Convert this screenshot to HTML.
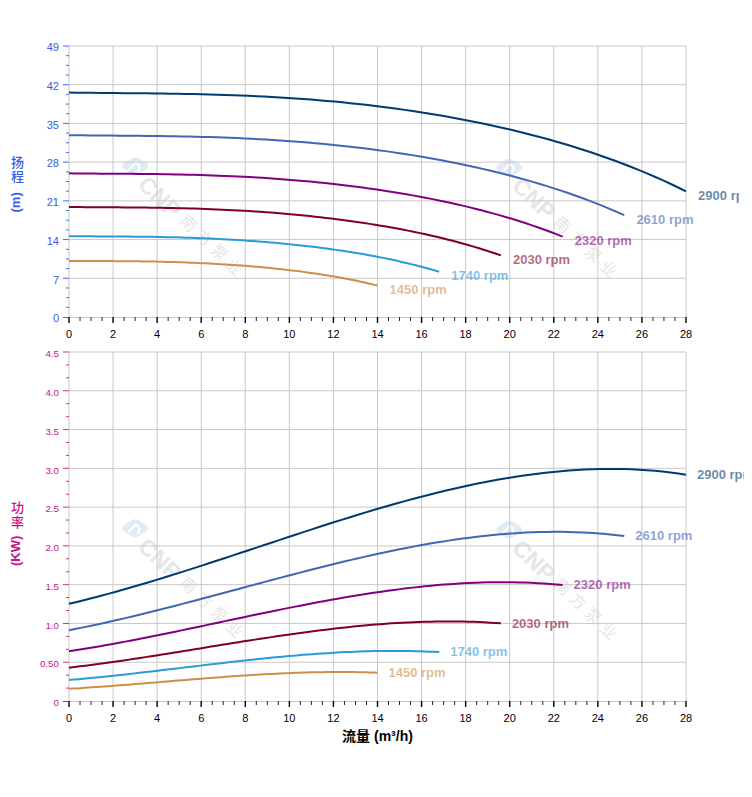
<!DOCTYPE html>
<html><head><meta charset="utf-8"><title>chart</title>
<style>html,body{margin:0;padding:0;background:#fff;}body{width:752px;height:797px;position:relative;overflow:hidden;}</style>
</head><body>
<svg width="752" height="797" viewBox="0 0 752 797" style="position:absolute;left:0;top:0" font-family='"Liberation Sans", Arial, Helvetica, sans-serif'>
<rect width="752" height="797" fill="#fff"/>
<g transform="translate(135.2,166.2)"><path d="M-13 0 Q-13 -2 -10.5 -3.6 L-2.5 -8.4 Q0 -9.6 2.5 -8.4 L10.5 -3.6 Q13 -2 13 0 Q13 2 10.5 3.6 L2.5 8.4 Q0 9.6 -2.5 8.4 L-10.5 3.6 Q-13 2 -13 0 Z" fill="#e0ebf7"/><path d="M-6 3 L1 -4 M1.5 -3 Q6 -1 3 5" fill="none" stroke="#fff" stroke-width="2.2" stroke-linecap="round"/></g>
<g transform="translate(147.5,185) rotate(44)"><text x="-7" y="8.2" font-size="23" font-weight="bold" fill="#e6e6e6">CNP</text><text x="48.3" y="4.5" font-size="16" letter-spacing="5.2" fill="#e6e6e6" font-family='"Liberation Sans", "Noto Sans CJK SC", sans-serif'>南方泵业</text></g>
<g transform="translate(509.2,167.7)"><path d="M-13 0 Q-13 -2 -10.5 -3.6 L-2.5 -8.4 Q0 -9.6 2.5 -8.4 L10.5 -3.6 Q13 -2 13 0 Q13 2 10.5 3.6 L2.5 8.4 Q0 9.6 -2.5 8.4 L-10.5 3.6 Q-13 2 -13 0 Z" fill="#e0ebf7"/><path d="M-6 3 L1 -4 M1.5 -3 Q6 -1 3 5" fill="none" stroke="#fff" stroke-width="2.2" stroke-linecap="round"/></g>
<g transform="translate(521.5,186.5) rotate(44)"><text x="-7" y="8.2" font-size="23" font-weight="bold" fill="#e6e6e6">CNP</text><text x="48.3" y="4.5" font-size="16" letter-spacing="5.2" fill="#e6e6e6" font-family='"Liberation Sans", "Noto Sans CJK SC", sans-serif'>南方泵业</text></g>
<g transform="translate(135.2,528.2)"><path d="M-13 0 Q-13 -2 -10.5 -3.6 L-2.5 -8.4 Q0 -9.6 2.5 -8.4 L10.5 -3.6 Q13 -2 13 0 Q13 2 10.5 3.6 L2.5 8.4 Q0 9.6 -2.5 8.4 L-10.5 3.6 Q-13 2 -13 0 Z" fill="#e0ebf7"/><path d="M-6 3 L1 -4 M1.5 -3 Q6 -1 3 5" fill="none" stroke="#fff" stroke-width="2.2" stroke-linecap="round"/></g>
<g transform="translate(147.5,547) rotate(44)"><text x="-7" y="8.2" font-size="23" font-weight="bold" fill="#e6e6e6">CNP</text><text x="48.3" y="4.5" font-size="16" letter-spacing="5.2" fill="#e6e6e6" font-family='"Liberation Sans", "Noto Sans CJK SC", sans-serif'>南方泵业</text></g>
<g transform="translate(509.2,529.7)"><path d="M-13 0 Q-13 -2 -10.5 -3.6 L-2.5 -8.4 Q0 -9.6 2.5 -8.4 L10.5 -3.6 Q13 -2 13 0 Q13 2 10.5 3.6 L2.5 8.4 Q0 9.6 -2.5 8.4 L-10.5 3.6 Q-13 2 -13 0 Z" fill="#e0ebf7"/><path d="M-6 3 L1 -4 M1.5 -3 Q6 -1 3 5" fill="none" stroke="#fff" stroke-width="2.2" stroke-linecap="round"/></g>
<g transform="translate(521.5,548.5) rotate(44)"><text x="-7" y="8.2" font-size="23" font-weight="bold" fill="#e6e6e6">CNP</text><text x="48.3" y="4.5" font-size="16" letter-spacing="5.2" fill="#e6e6e6" font-family='"Liberation Sans", "Noto Sans CJK SC", sans-serif'>南方泵业</text></g>
<line x1="69.0" y1="46" x2="686.0" y2="46" stroke="#c8c8c8" stroke-width="1"/>
<line x1="69.0" y1="84.71" x2="686.0" y2="84.71" stroke="#c8c8c8" stroke-width="1"/>
<line x1="69.0" y1="123.43" x2="686.0" y2="123.43" stroke="#c8c8c8" stroke-width="1"/>
<line x1="69.0" y1="162.14" x2="686.0" y2="162.14" stroke="#c8c8c8" stroke-width="1"/>
<line x1="69.0" y1="200.86" x2="686.0" y2="200.86" stroke="#c8c8c8" stroke-width="1"/>
<line x1="69.0" y1="239.57" x2="686.0" y2="239.57" stroke="#c8c8c8" stroke-width="1"/>
<line x1="69.0" y1="278.29" x2="686.0" y2="278.29" stroke="#c8c8c8" stroke-width="1"/>
<line x1="69.0" y1="317.5" x2="686.0" y2="317.5" stroke="#c8c8c8" stroke-width="1"/>
<line x1="69" y1="46" x2="69" y2="317" stroke="#c8c8c8" stroke-width="1"/>
<line x1="113.07" y1="46" x2="113.07" y2="317" stroke="#c8c8c8" stroke-width="1"/>
<line x1="157.14" y1="46" x2="157.14" y2="317" stroke="#c8c8c8" stroke-width="1"/>
<line x1="201.21" y1="46" x2="201.21" y2="317" stroke="#c8c8c8" stroke-width="1"/>
<line x1="245.29" y1="46" x2="245.29" y2="317" stroke="#c8c8c8" stroke-width="1"/>
<line x1="289.36" y1="46" x2="289.36" y2="317" stroke="#c8c8c8" stroke-width="1"/>
<line x1="333.43" y1="46" x2="333.43" y2="317" stroke="#c8c8c8" stroke-width="1"/>
<line x1="377.5" y1="46" x2="377.5" y2="317" stroke="#c8c8c8" stroke-width="1"/>
<line x1="421.57" y1="46" x2="421.57" y2="317" stroke="#c8c8c8" stroke-width="1"/>
<line x1="465.64" y1="46" x2="465.64" y2="317" stroke="#c8c8c8" stroke-width="1"/>
<line x1="509.71" y1="46" x2="509.71" y2="317" stroke="#c8c8c8" stroke-width="1"/>
<line x1="553.79" y1="46" x2="553.79" y2="317" stroke="#c8c8c8" stroke-width="1"/>
<line x1="597.86" y1="46" x2="597.86" y2="317" stroke="#c8c8c8" stroke-width="1"/>
<line x1="641.93" y1="46" x2="641.93" y2="317" stroke="#c8c8c8" stroke-width="1"/>
<line x1="686" y1="46" x2="686" y2="317" stroke="#c8c8c8" stroke-width="1"/>
<line x1="63" y1="46" x2="69" y2="46" stroke="#4a6ee6" stroke-width="1"/>
<line x1="66" y1="55.68" x2="69" y2="55.68" stroke="#4a6ee6" stroke-width="1"/>
<line x1="66" y1="65.36" x2="69" y2="65.36" stroke="#4a6ee6" stroke-width="1"/>
<line x1="66" y1="75.04" x2="69" y2="75.04" stroke="#4a6ee6" stroke-width="1"/>
<text x="59" y="51.3" fill="#3c5ae6" font-size="11" text-anchor="end">49</text>
<line x1="63" y1="84.71" x2="69" y2="84.71" stroke="#4a6ee6" stroke-width="1"/>
<line x1="66" y1="94.39" x2="69" y2="94.39" stroke="#4a6ee6" stroke-width="1"/>
<line x1="66" y1="104.07" x2="69" y2="104.07" stroke="#4a6ee6" stroke-width="1"/>
<line x1="66" y1="113.75" x2="69" y2="113.75" stroke="#4a6ee6" stroke-width="1"/>
<text x="59" y="90.01" fill="#3c5ae6" font-size="11" text-anchor="end">42</text>
<line x1="63" y1="123.43" x2="69" y2="123.43" stroke="#4a6ee6" stroke-width="1"/>
<line x1="66" y1="133.11" x2="69" y2="133.11" stroke="#4a6ee6" stroke-width="1"/>
<line x1="66" y1="142.79" x2="69" y2="142.79" stroke="#4a6ee6" stroke-width="1"/>
<line x1="66" y1="152.46" x2="69" y2="152.46" stroke="#4a6ee6" stroke-width="1"/>
<text x="59" y="128.73" fill="#3c5ae6" font-size="11" text-anchor="end">35</text>
<line x1="63" y1="162.14" x2="69" y2="162.14" stroke="#4a6ee6" stroke-width="1"/>
<line x1="66" y1="171.82" x2="69" y2="171.82" stroke="#4a6ee6" stroke-width="1"/>
<line x1="66" y1="181.5" x2="69" y2="181.5" stroke="#4a6ee6" stroke-width="1"/>
<line x1="66" y1="191.18" x2="69" y2="191.18" stroke="#4a6ee6" stroke-width="1"/>
<text x="59" y="167.44" fill="#3c5ae6" font-size="11" text-anchor="end">28</text>
<line x1="63" y1="200.86" x2="69" y2="200.86" stroke="#4a6ee6" stroke-width="1"/>
<line x1="66" y1="210.54" x2="69" y2="210.54" stroke="#4a6ee6" stroke-width="1"/>
<line x1="66" y1="220.21" x2="69" y2="220.21" stroke="#4a6ee6" stroke-width="1"/>
<line x1="66" y1="229.89" x2="69" y2="229.89" stroke="#4a6ee6" stroke-width="1"/>
<text x="59" y="206.16" fill="#3c5ae6" font-size="11" text-anchor="end">21</text>
<line x1="63" y1="239.57" x2="69" y2="239.57" stroke="#4a6ee6" stroke-width="1"/>
<line x1="66" y1="249.25" x2="69" y2="249.25" stroke="#4a6ee6" stroke-width="1"/>
<line x1="66" y1="258.93" x2="69" y2="258.93" stroke="#4a6ee6" stroke-width="1"/>
<line x1="66" y1="268.61" x2="69" y2="268.61" stroke="#4a6ee6" stroke-width="1"/>
<text x="59" y="244.87" fill="#3c5ae6" font-size="11" text-anchor="end">14</text>
<line x1="63" y1="278.29" x2="69" y2="278.29" stroke="#4a6ee6" stroke-width="1"/>
<line x1="66" y1="287.96" x2="69" y2="287.96" stroke="#4a6ee6" stroke-width="1"/>
<line x1="66" y1="297.64" x2="69" y2="297.64" stroke="#4a6ee6" stroke-width="1"/>
<line x1="66" y1="307.32" x2="69" y2="307.32" stroke="#4a6ee6" stroke-width="1"/>
<text x="59" y="283.59" fill="#3c5ae6" font-size="11" text-anchor="end">7</text>
<line x1="63" y1="317.5" x2="69" y2="317.5" stroke="#4a6ee6" stroke-width="1"/>
<text x="59" y="322.3" fill="#3c5ae6" font-size="11" text-anchor="end">0</text>
<line x1="69" y1="317" x2="69" y2="323" stroke="#000" stroke-width="1.4"/>
<text x="69" y="337.7" fill="#000" font-size="11" text-anchor="middle">0</text>
<line x1="80.02" y1="317" x2="80.02" y2="321" stroke="#222" stroke-width="1"/>
<line x1="91.04" y1="317" x2="91.04" y2="321" stroke="#222" stroke-width="1"/>
<line x1="102.05" y1="317" x2="102.05" y2="321" stroke="#222" stroke-width="1"/>
<line x1="113.07" y1="317" x2="113.07" y2="323" stroke="#000" stroke-width="1.4"/>
<text x="113.07" y="337.7" fill="#000" font-size="11" text-anchor="middle">2</text>
<line x1="124.09" y1="317" x2="124.09" y2="321" stroke="#222" stroke-width="1"/>
<line x1="135.11" y1="317" x2="135.11" y2="321" stroke="#222" stroke-width="1"/>
<line x1="146.12" y1="317" x2="146.12" y2="321" stroke="#222" stroke-width="1"/>
<line x1="157.14" y1="317" x2="157.14" y2="323" stroke="#000" stroke-width="1.4"/>
<text x="157.14" y="337.7" fill="#000" font-size="11" text-anchor="middle">4</text>
<line x1="168.16" y1="317" x2="168.16" y2="321" stroke="#222" stroke-width="1"/>
<line x1="179.18" y1="317" x2="179.18" y2="321" stroke="#222" stroke-width="1"/>
<line x1="190.2" y1="317" x2="190.2" y2="321" stroke="#222" stroke-width="1"/>
<line x1="201.21" y1="317" x2="201.21" y2="323" stroke="#000" stroke-width="1.4"/>
<text x="201.21" y="337.7" fill="#000" font-size="11" text-anchor="middle">6</text>
<line x1="212.23" y1="317" x2="212.23" y2="321" stroke="#222" stroke-width="1"/>
<line x1="223.25" y1="317" x2="223.25" y2="321" stroke="#222" stroke-width="1"/>
<line x1="234.27" y1="317" x2="234.27" y2="321" stroke="#222" stroke-width="1"/>
<line x1="245.29" y1="317" x2="245.29" y2="323" stroke="#000" stroke-width="1.4"/>
<text x="245.29" y="337.7" fill="#000" font-size="11" text-anchor="middle">8</text>
<line x1="256.3" y1="317" x2="256.3" y2="321" stroke="#222" stroke-width="1"/>
<line x1="267.32" y1="317" x2="267.32" y2="321" stroke="#222" stroke-width="1"/>
<line x1="278.34" y1="317" x2="278.34" y2="321" stroke="#222" stroke-width="1"/>
<line x1="289.36" y1="317" x2="289.36" y2="323" stroke="#000" stroke-width="1.4"/>
<text x="289.36" y="337.7" fill="#000" font-size="11" text-anchor="middle">10</text>
<line x1="300.38" y1="317" x2="300.38" y2="321" stroke="#222" stroke-width="1"/>
<line x1="311.39" y1="317" x2="311.39" y2="321" stroke="#222" stroke-width="1"/>
<line x1="322.41" y1="317" x2="322.41" y2="321" stroke="#222" stroke-width="1"/>
<line x1="333.43" y1="317" x2="333.43" y2="323" stroke="#000" stroke-width="1.4"/>
<text x="333.43" y="337.7" fill="#000" font-size="11" text-anchor="middle">12</text>
<line x1="344.45" y1="317" x2="344.45" y2="321" stroke="#222" stroke-width="1"/>
<line x1="355.46" y1="317" x2="355.46" y2="321" stroke="#222" stroke-width="1"/>
<line x1="366.48" y1="317" x2="366.48" y2="321" stroke="#222" stroke-width="1"/>
<line x1="377.5" y1="317" x2="377.5" y2="323" stroke="#000" stroke-width="1.4"/>
<text x="377.5" y="337.7" fill="#000" font-size="11" text-anchor="middle">14</text>
<line x1="388.52" y1="317" x2="388.52" y2="321" stroke="#222" stroke-width="1"/>
<line x1="399.54" y1="317" x2="399.54" y2="321" stroke="#222" stroke-width="1"/>
<line x1="410.55" y1="317" x2="410.55" y2="321" stroke="#222" stroke-width="1"/>
<line x1="421.57" y1="317" x2="421.57" y2="323" stroke="#000" stroke-width="1.4"/>
<text x="421.57" y="337.7" fill="#000" font-size="11" text-anchor="middle">16</text>
<line x1="432.59" y1="317" x2="432.59" y2="321" stroke="#222" stroke-width="1"/>
<line x1="443.61" y1="317" x2="443.61" y2="321" stroke="#222" stroke-width="1"/>
<line x1="454.62" y1="317" x2="454.62" y2="321" stroke="#222" stroke-width="1"/>
<line x1="465.64" y1="317" x2="465.64" y2="323" stroke="#000" stroke-width="1.4"/>
<text x="465.64" y="337.7" fill="#000" font-size="11" text-anchor="middle">18</text>
<line x1="476.66" y1="317" x2="476.66" y2="321" stroke="#222" stroke-width="1"/>
<line x1="487.68" y1="317" x2="487.68" y2="321" stroke="#222" stroke-width="1"/>
<line x1="498.7" y1="317" x2="498.7" y2="321" stroke="#222" stroke-width="1"/>
<line x1="509.71" y1="317" x2="509.71" y2="323" stroke="#000" stroke-width="1.4"/>
<text x="509.71" y="337.7" fill="#000" font-size="11" text-anchor="middle">20</text>
<line x1="520.73" y1="317" x2="520.73" y2="321" stroke="#222" stroke-width="1"/>
<line x1="531.75" y1="317" x2="531.75" y2="321" stroke="#222" stroke-width="1"/>
<line x1="542.77" y1="317" x2="542.77" y2="321" stroke="#222" stroke-width="1"/>
<line x1="553.79" y1="317" x2="553.79" y2="323" stroke="#000" stroke-width="1.4"/>
<text x="553.79" y="337.7" fill="#000" font-size="11" text-anchor="middle">22</text>
<line x1="564.8" y1="317" x2="564.8" y2="321" stroke="#222" stroke-width="1"/>
<line x1="575.82" y1="317" x2="575.82" y2="321" stroke="#222" stroke-width="1"/>
<line x1="586.84" y1="317" x2="586.84" y2="321" stroke="#222" stroke-width="1"/>
<line x1="597.86" y1="317" x2="597.86" y2="323" stroke="#000" stroke-width="1.4"/>
<text x="597.86" y="337.7" fill="#000" font-size="11" text-anchor="middle">24</text>
<line x1="608.88" y1="317" x2="608.88" y2="321" stroke="#222" stroke-width="1"/>
<line x1="619.89" y1="317" x2="619.89" y2="321" stroke="#222" stroke-width="1"/>
<line x1="630.91" y1="317" x2="630.91" y2="321" stroke="#222" stroke-width="1"/>
<line x1="641.93" y1="317" x2="641.93" y2="323" stroke="#000" stroke-width="1.4"/>
<text x="641.93" y="337.7" fill="#000" font-size="11" text-anchor="middle">26</text>
<line x1="652.95" y1="317" x2="652.95" y2="321" stroke="#222" stroke-width="1"/>
<line x1="663.96" y1="317" x2="663.96" y2="321" stroke="#222" stroke-width="1"/>
<line x1="674.98" y1="317" x2="674.98" y2="321" stroke="#222" stroke-width="1"/>
<line x1="686" y1="317" x2="686" y2="323" stroke="#000" stroke-width="1.4"/>
<text x="686" y="337.7" fill="#000" font-size="11" text-anchor="middle">28</text>
<svg x="0" y="0" width="739" height="797" overflow="hidden">
<path d="M69.00 92.53 L76.81 92.65 L84.62 92.76 L92.43 92.85 L100.24 92.93 L108.05 93.00 L115.86 93.07 L123.67 93.13 L131.48 93.20 L139.29 93.27 L147.10 93.34 L154.91 93.43 L162.72 93.52 L170.53 93.63 L178.34 93.75 L186.15 93.89 L193.96 94.04 L201.77 94.22 L209.58 94.42 L217.39 94.64 L225.20 94.89 L233.01 95.16 L240.82 95.46 L248.63 95.79 L256.44 96.15 L264.25 96.54 L272.06 96.96 L279.87 97.42 L287.68 97.91 L295.49 98.43 L303.30 98.99 L311.11 99.59 L318.92 100.22 L326.73 100.89 L334.54 101.61 L342.35 102.36 L350.16 103.15 L357.97 103.98 L365.78 104.86 L373.59 105.77 L381.41 106.73 L389.22 107.74 L397.03 108.79 L404.84 109.88 L412.65 111.03 L420.46 112.21 L428.27 113.45 L436.08 114.74 L443.89 116.08 L451.70 117.46 L459.51 118.90 L467.32 120.40 L475.13 121.95 L482.94 123.55 L490.75 125.21 L498.56 126.93 L506.37 128.71 L514.18 130.55 L521.99 132.46 L529.80 134.43 L537.61 136.47 L545.42 138.58 L553.23 140.75 L561.04 143.00 L568.85 145.33 L576.66 147.74 L584.47 150.22 L592.28 152.79 L600.09 155.45 L607.90 158.19 L615.71 161.03 L623.52 163.96 L631.33 166.99 L639.14 170.13 L646.95 173.37 L654.76 176.72 L662.57 180.19 L670.38 183.77 L678.19 187.48 L686.00 191.32" fill="none" stroke="#003a70" stroke-width="2" stroke-linejoin="round" stroke-linecap="butt"/>
<path d="M69.00 135.18 L76.03 135.28 L83.06 135.36 L90.09 135.44 L97.12 135.50 L104.15 135.56 L111.17 135.61 L118.20 135.67 L125.23 135.72 L132.26 135.78 L139.29 135.84 L146.32 135.91 L153.35 135.98 L160.38 136.07 L167.41 136.17 L174.44 136.28 L181.47 136.40 L188.49 136.55 L195.52 136.71 L202.55 136.89 L209.58 137.09 L216.61 137.31 L223.64 137.55 L230.67 137.82 L237.70 138.11 L244.73 138.43 L251.76 138.77 L258.79 139.14 L265.82 139.53 L272.84 139.96 L279.87 140.41 L286.90 140.90 L293.93 141.41 L300.96 141.95 L307.99 142.53 L315.02 143.14 L322.05 143.78 L329.08 144.45 L336.11 145.16 L343.14 145.91 L350.16 146.68 L357.19 147.50 L364.22 148.35 L371.25 149.24 L378.28 150.16 L385.31 151.12 L392.34 152.13 L399.37 153.17 L406.40 154.25 L413.43 155.38 L420.46 156.54 L427.48 157.75 L434.51 159.01 L441.54 160.31 L448.57 161.65 L455.60 163.05 L462.63 164.49 L469.66 165.98 L476.69 167.52 L483.72 169.12 L490.75 170.77 L497.78 172.48 L504.81 174.24 L511.83 176.06 L518.86 177.95 L525.89 179.90 L532.92 181.91 L539.95 183.99 L546.98 186.14 L554.01 188.36 L561.04 190.66 L568.07 193.04 L575.10 195.49 L582.13 198.03 L589.15 200.66 L596.18 203.37 L603.21 206.18 L610.24 209.09 L617.27 212.09 L624.30 215.20" fill="none" stroke="#3f67b5" stroke-width="2" stroke-linejoin="round" stroke-linecap="butt"/>
<path d="M69.00 173.34 L75.25 173.42 L81.50 173.48 L87.74 173.54 L93.99 173.59 L100.24 173.64 L106.49 173.68 L112.74 173.72 L118.98 173.77 L125.23 173.81 L131.48 173.86 L137.73 173.91 L143.98 173.97 L150.23 174.04 L156.47 174.12 L162.72 174.21 L168.97 174.31 L175.22 174.42 L181.47 174.55 L187.71 174.69 L193.96 174.85 L200.21 175.02 L206.46 175.21 L212.71 175.43 L218.95 175.66 L225.20 175.90 L231.45 176.18 L237.70 176.47 L243.95 176.78 L250.19 177.12 L256.44 177.47 L262.69 177.86 L268.94 178.26 L275.19 178.69 L281.44 179.15 L287.68 179.63 L293.93 180.13 L300.18 180.67 L306.43 181.23 L312.68 181.81 L318.92 182.43 L325.17 183.07 L331.42 183.74 L337.67 184.45 L343.92 185.18 L350.16 185.94 L356.41 186.73 L362.66 187.55 L368.91 188.41 L375.16 189.30 L381.41 190.22 L387.65 191.17 L393.90 192.17 L400.15 193.19 L406.40 194.26 L412.65 195.36 L418.89 196.50 L425.14 197.68 L431.39 198.89 L437.64 200.16 L443.89 201.46 L450.13 202.81 L456.38 204.20 L462.63 205.64 L468.88 207.13 L475.13 208.67 L481.37 210.26 L487.62 211.91 L493.87 213.61 L500.12 215.36 L506.37 217.18 L512.62 219.05 L518.86 221.00 L525.11 223.00 L531.36 225.08 L537.61 227.22 L543.86 229.44 L550.10 231.73 L556.35 234.11 L562.60 236.56" fill="none" stroke="#800080" stroke-width="2" stroke-linejoin="round" stroke-linecap="butt"/>
<path d="M69.00 207.01 L74.47 207.07 L79.93 207.12 L85.40 207.17 L90.87 207.21 L96.34 207.24 L101.80 207.27 L107.27 207.31 L112.74 207.34 L118.20 207.37 L123.67 207.41 L129.14 207.45 L134.61 207.49 L140.07 207.55 L145.54 207.61 L151.01 207.67 L156.47 207.75 L161.94 207.84 L167.41 207.93 L172.87 208.04 L178.34 208.16 L183.81 208.30 L189.28 208.45 L194.74 208.61 L200.21 208.78 L205.68 208.97 L211.14 209.18 L216.61 209.40 L222.08 209.64 L227.55 209.90 L233.01 210.18 L238.48 210.47 L243.95 210.78 L249.41 211.11 L254.88 211.46 L260.35 211.82 L265.82 212.21 L271.28 212.62 L276.75 213.05 L282.22 213.50 L287.68 213.97 L293.15 214.46 L298.62 214.98 L304.08 215.51 L309.55 216.07 L315.02 216.66 L320.49 217.26 L325.95 217.89 L331.42 218.55 L336.89 219.23 L342.35 219.93 L347.82 220.67 L353.29 221.42 L358.76 222.21 L364.22 223.02 L369.69 223.87 L375.16 224.74 L380.62 225.64 L386.09 226.58 L391.56 227.54 L397.03 228.54 L402.49 229.57 L407.96 230.64 L413.43 231.74 L418.89 232.88 L424.36 234.06 L429.83 235.28 L435.29 236.54 L440.76 237.84 L446.23 239.18 L451.70 240.57 L457.16 242.01 L462.63 243.50 L468.10 245.03 L473.56 246.62 L479.03 248.26 L484.50 249.96 L489.97 251.72 L495.43 253.54 L500.90 255.42" fill="none" stroke="#800020" stroke-width="2" stroke-linejoin="round" stroke-linecap="butt"/>
<path d="M69.00 236.19 L73.69 236.23 L78.37 236.27 L83.06 236.31 L87.74 236.33 L92.43 236.36 L97.12 236.38 L101.80 236.41 L106.49 236.43 L111.17 236.46 L115.86 236.48 L120.55 236.51 L125.23 236.55 L129.92 236.59 L134.61 236.63 L139.29 236.68 L143.98 236.74 L148.66 236.80 L153.35 236.87 L158.04 236.95 L162.72 237.04 L167.41 237.14 L172.09 237.25 L176.78 237.36 L181.47 237.49 L186.15 237.63 L190.84 237.79 L195.52 237.95 L200.21 238.13 L204.90 238.31 L209.58 238.52 L214.27 238.73 L218.95 238.96 L223.64 239.20 L228.33 239.46 L233.01 239.73 L237.70 240.01 L242.38 240.31 L247.07 240.63 L251.76 240.96 L256.44 241.30 L261.13 241.67 L265.82 242.04 L270.50 242.44 L275.19 242.85 L279.87 243.28 L284.56 243.72 L289.25 244.19 L293.93 244.67 L298.62 245.17 L303.30 245.69 L307.99 246.22 L312.68 246.78 L317.36 247.36 L322.05 247.96 L326.73 248.58 L331.42 249.22 L336.11 249.88 L340.79 250.57 L345.48 251.28 L350.16 252.01 L354.85 252.77 L359.54 253.55 L364.22 254.36 L368.91 255.20 L373.59 256.06 L378.28 256.96 L382.97 257.88 L387.65 258.84 L392.34 259.83 L397.03 260.85 L401.71 261.91 L406.40 263.00 L411.08 264.13 L415.77 265.29 L420.46 266.50 L425.14 267.75 L429.83 269.04 L434.51 270.37 L439.20 271.75" fill="none" stroke="#2a9bda" stroke-width="2" stroke-linejoin="round" stroke-linecap="butt"/>
<path d="M69.00 260.88 L72.91 260.91 L76.81 260.94 L80.72 260.96 L84.62 260.98 L88.53 261.00 L92.43 261.02 L96.34 261.03 L100.24 261.05 L104.15 261.07 L108.05 261.09 L111.96 261.11 L115.86 261.13 L119.77 261.16 L123.67 261.19 L127.58 261.22 L131.48 261.26 L135.39 261.30 L139.29 261.35 L143.20 261.41 L147.10 261.47 L151.01 261.54 L154.91 261.62 L158.82 261.70 L162.72 261.79 L166.63 261.88 L170.53 261.99 L174.44 262.10 L178.34 262.23 L182.25 262.36 L186.15 262.50 L190.06 262.65 L193.96 262.81 L197.87 262.97 L201.77 263.15 L205.68 263.34 L209.58 263.54 L213.49 263.75 L217.39 263.96 L221.30 264.19 L225.20 264.43 L229.11 264.68 L233.01 264.95 L236.92 265.22 L240.82 265.51 L244.73 265.80 L248.63 266.11 L252.54 266.43 L256.44 266.77 L260.35 267.12 L264.25 267.48 L268.16 267.85 L272.06 268.24 L275.97 268.64 L279.87 269.05 L283.78 269.48 L287.68 269.93 L291.59 270.39 L295.49 270.87 L299.40 271.36 L303.30 271.87 L307.21 272.39 L311.11 272.94 L315.02 273.50 L318.92 274.08 L322.83 274.68 L326.73 275.31 L330.64 275.95 L334.54 276.61 L338.45 277.30 L342.35 278.01 L346.26 278.74 L350.16 279.50 L354.07 280.28 L357.97 281.09 L361.88 281.93 L365.78 282.80 L369.69 283.69 L373.59 284.62 L377.50 285.58" fill="none" stroke="#cd8f45" stroke-width="2" stroke-linejoin="round" stroke-linecap="butt"/>
<text x="698.1" y="199.62" fill="#003a70" fill-opacity="0.6" font-size="13" font-weight="bold">2900 rpm</text>
<text x="636.4" y="223.5" fill="#3f67b5" fill-opacity="0.6" font-size="13" font-weight="bold">2610 rpm</text>
<text x="574.7" y="244.86" fill="#800080" fill-opacity="0.6" font-size="13" font-weight="bold">2320 rpm</text>
<text x="513" y="263.72" fill="#800020" fill-opacity="0.6" font-size="13" font-weight="bold">2030 rpm</text>
<text x="451.3" y="280.05" fill="#2a9bda" fill-opacity="0.6" font-size="13" font-weight="bold">1740 rpm</text>
<text x="389.6" y="293.88" fill="#cd8f45" fill-opacity="0.6" font-size="13" font-weight="bold">1450 rpm</text>
</svg>
<line x1="69.0" y1="352" x2="686.0" y2="352" stroke="#c8c8c8" stroke-width="1"/>
<line x1="69.0" y1="390.78" x2="686.0" y2="390.78" stroke="#c8c8c8" stroke-width="1"/>
<line x1="69.0" y1="429.56" x2="686.0" y2="429.56" stroke="#c8c8c8" stroke-width="1"/>
<line x1="69.0" y1="468.33" x2="686.0" y2="468.33" stroke="#c8c8c8" stroke-width="1"/>
<line x1="69.0" y1="507.11" x2="686.0" y2="507.11" stroke="#c8c8c8" stroke-width="1"/>
<line x1="69.0" y1="545.89" x2="686.0" y2="545.89" stroke="#c8c8c8" stroke-width="1"/>
<line x1="69.0" y1="584.67" x2="686.0" y2="584.67" stroke="#c8c8c8" stroke-width="1"/>
<line x1="69.0" y1="623.44" x2="686.0" y2="623.44" stroke="#c8c8c8" stroke-width="1"/>
<line x1="69.0" y1="662.22" x2="686.0" y2="662.22" stroke="#c8c8c8" stroke-width="1"/>
<line x1="69.0" y1="701.5" x2="686.0" y2="701.5" stroke="#c8c8c8" stroke-width="1"/>
<line x1="69" y1="352" x2="69" y2="701" stroke="#c8c8c8" stroke-width="1"/>
<line x1="113.07" y1="352" x2="113.07" y2="701" stroke="#c8c8c8" stroke-width="1"/>
<line x1="157.14" y1="352" x2="157.14" y2="701" stroke="#c8c8c8" stroke-width="1"/>
<line x1="201.21" y1="352" x2="201.21" y2="701" stroke="#c8c8c8" stroke-width="1"/>
<line x1="245.29" y1="352" x2="245.29" y2="701" stroke="#c8c8c8" stroke-width="1"/>
<line x1="289.36" y1="352" x2="289.36" y2="701" stroke="#c8c8c8" stroke-width="1"/>
<line x1="333.43" y1="352" x2="333.43" y2="701" stroke="#c8c8c8" stroke-width="1"/>
<line x1="377.5" y1="352" x2="377.5" y2="701" stroke="#c8c8c8" stroke-width="1"/>
<line x1="421.57" y1="352" x2="421.57" y2="701" stroke="#c8c8c8" stroke-width="1"/>
<line x1="465.64" y1="352" x2="465.64" y2="701" stroke="#c8c8c8" stroke-width="1"/>
<line x1="509.71" y1="352" x2="509.71" y2="701" stroke="#c8c8c8" stroke-width="1"/>
<line x1="553.79" y1="352" x2="553.79" y2="701" stroke="#c8c8c8" stroke-width="1"/>
<line x1="597.86" y1="352" x2="597.86" y2="701" stroke="#c8c8c8" stroke-width="1"/>
<line x1="641.93" y1="352" x2="641.93" y2="701" stroke="#c8c8c8" stroke-width="1"/>
<line x1="686" y1="352" x2="686" y2="701" stroke="#c8c8c8" stroke-width="1"/>
<line x1="63" y1="352" x2="69" y2="352" stroke="#d02c95" stroke-width="1"/>
<line x1="66" y1="364.93" x2="69" y2="364.93" stroke="#d02c95" stroke-width="1"/>
<line x1="66" y1="377.85" x2="69" y2="377.85" stroke="#d02c95" stroke-width="1"/>
<text x="59" y="357.2" fill="#c8148c" font-size="9.8" text-anchor="end">4.5</text>
<line x1="63" y1="390.78" x2="69" y2="390.78" stroke="#d02c95" stroke-width="1"/>
<line x1="66" y1="403.7" x2="69" y2="403.7" stroke="#d02c95" stroke-width="1"/>
<line x1="66" y1="416.63" x2="69" y2="416.63" stroke="#d02c95" stroke-width="1"/>
<text x="59" y="395.98" fill="#c8148c" font-size="9.8" text-anchor="end">4.0</text>
<line x1="63" y1="429.56" x2="69" y2="429.56" stroke="#d02c95" stroke-width="1"/>
<line x1="66" y1="442.48" x2="69" y2="442.48" stroke="#d02c95" stroke-width="1"/>
<line x1="66" y1="455.41" x2="69" y2="455.41" stroke="#d02c95" stroke-width="1"/>
<text x="59" y="434.76" fill="#c8148c" font-size="9.8" text-anchor="end">3.5</text>
<line x1="63" y1="468.33" x2="69" y2="468.33" stroke="#d02c95" stroke-width="1"/>
<line x1="66" y1="481.26" x2="69" y2="481.26" stroke="#d02c95" stroke-width="1"/>
<line x1="66" y1="494.19" x2="69" y2="494.19" stroke="#d02c95" stroke-width="1"/>
<text x="59" y="473.53" fill="#c8148c" font-size="9.8" text-anchor="end">3.0</text>
<line x1="63" y1="507.11" x2="69" y2="507.11" stroke="#d02c95" stroke-width="1"/>
<line x1="66" y1="520.04" x2="69" y2="520.04" stroke="#d02c95" stroke-width="1"/>
<line x1="66" y1="532.96" x2="69" y2="532.96" stroke="#d02c95" stroke-width="1"/>
<text x="59" y="512.31" fill="#c8148c" font-size="9.8" text-anchor="end">2.5</text>
<line x1="63" y1="545.89" x2="69" y2="545.89" stroke="#d02c95" stroke-width="1"/>
<line x1="66" y1="558.81" x2="69" y2="558.81" stroke="#d02c95" stroke-width="1"/>
<line x1="66" y1="571.74" x2="69" y2="571.74" stroke="#d02c95" stroke-width="1"/>
<text x="59" y="551.09" fill="#c8148c" font-size="9.8" text-anchor="end">2.0</text>
<line x1="63" y1="584.67" x2="69" y2="584.67" stroke="#d02c95" stroke-width="1"/>
<line x1="66" y1="597.59" x2="69" y2="597.59" stroke="#d02c95" stroke-width="1"/>
<line x1="66" y1="610.52" x2="69" y2="610.52" stroke="#d02c95" stroke-width="1"/>
<text x="59" y="589.87" fill="#c8148c" font-size="9.8" text-anchor="end">1.5</text>
<line x1="63" y1="623.44" x2="69" y2="623.44" stroke="#d02c95" stroke-width="1"/>
<line x1="66" y1="636.37" x2="69" y2="636.37" stroke="#d02c95" stroke-width="1"/>
<line x1="66" y1="649.3" x2="69" y2="649.3" stroke="#d02c95" stroke-width="1"/>
<text x="59" y="628.64" fill="#c8148c" font-size="9.8" text-anchor="end">1.0</text>
<line x1="63" y1="662.22" x2="69" y2="662.22" stroke="#d02c95" stroke-width="1"/>
<line x1="66" y1="675.15" x2="69" y2="675.15" stroke="#d02c95" stroke-width="1"/>
<line x1="66" y1="688.07" x2="69" y2="688.07" stroke="#d02c95" stroke-width="1"/>
<text x="59" y="667.42" fill="#c8148c" font-size="9.8" text-anchor="end">0.50</text>
<line x1="63" y1="701.5" x2="69" y2="701.5" stroke="#d02c95" stroke-width="1"/>
<text x="59" y="706.2" fill="#c8148c" font-size="9.8" text-anchor="end">0</text>
<line x1="69" y1="701" x2="69" y2="707" stroke="#000" stroke-width="1.4"/>
<text x="69" y="721.7" fill="#000" font-size="11" text-anchor="middle">0</text>
<line x1="80.02" y1="701" x2="80.02" y2="705" stroke="#222" stroke-width="1"/>
<line x1="91.04" y1="701" x2="91.04" y2="705" stroke="#222" stroke-width="1"/>
<line x1="102.05" y1="701" x2="102.05" y2="705" stroke="#222" stroke-width="1"/>
<line x1="113.07" y1="701" x2="113.07" y2="707" stroke="#000" stroke-width="1.4"/>
<text x="113.07" y="721.7" fill="#000" font-size="11" text-anchor="middle">2</text>
<line x1="124.09" y1="701" x2="124.09" y2="705" stroke="#222" stroke-width="1"/>
<line x1="135.11" y1="701" x2="135.11" y2="705" stroke="#222" stroke-width="1"/>
<line x1="146.12" y1="701" x2="146.12" y2="705" stroke="#222" stroke-width="1"/>
<line x1="157.14" y1="701" x2="157.14" y2="707" stroke="#000" stroke-width="1.4"/>
<text x="157.14" y="721.7" fill="#000" font-size="11" text-anchor="middle">4</text>
<line x1="168.16" y1="701" x2="168.16" y2="705" stroke="#222" stroke-width="1"/>
<line x1="179.18" y1="701" x2="179.18" y2="705" stroke="#222" stroke-width="1"/>
<line x1="190.2" y1="701" x2="190.2" y2="705" stroke="#222" stroke-width="1"/>
<line x1="201.21" y1="701" x2="201.21" y2="707" stroke="#000" stroke-width="1.4"/>
<text x="201.21" y="721.7" fill="#000" font-size="11" text-anchor="middle">6</text>
<line x1="212.23" y1="701" x2="212.23" y2="705" stroke="#222" stroke-width="1"/>
<line x1="223.25" y1="701" x2="223.25" y2="705" stroke="#222" stroke-width="1"/>
<line x1="234.27" y1="701" x2="234.27" y2="705" stroke="#222" stroke-width="1"/>
<line x1="245.29" y1="701" x2="245.29" y2="707" stroke="#000" stroke-width="1.4"/>
<text x="245.29" y="721.7" fill="#000" font-size="11" text-anchor="middle">8</text>
<line x1="256.3" y1="701" x2="256.3" y2="705" stroke="#222" stroke-width="1"/>
<line x1="267.32" y1="701" x2="267.32" y2="705" stroke="#222" stroke-width="1"/>
<line x1="278.34" y1="701" x2="278.34" y2="705" stroke="#222" stroke-width="1"/>
<line x1="289.36" y1="701" x2="289.36" y2="707" stroke="#000" stroke-width="1.4"/>
<text x="289.36" y="721.7" fill="#000" font-size="11" text-anchor="middle">10</text>
<line x1="300.38" y1="701" x2="300.38" y2="705" stroke="#222" stroke-width="1"/>
<line x1="311.39" y1="701" x2="311.39" y2="705" stroke="#222" stroke-width="1"/>
<line x1="322.41" y1="701" x2="322.41" y2="705" stroke="#222" stroke-width="1"/>
<line x1="333.43" y1="701" x2="333.43" y2="707" stroke="#000" stroke-width="1.4"/>
<text x="333.43" y="721.7" fill="#000" font-size="11" text-anchor="middle">12</text>
<line x1="344.45" y1="701" x2="344.45" y2="705" stroke="#222" stroke-width="1"/>
<line x1="355.46" y1="701" x2="355.46" y2="705" stroke="#222" stroke-width="1"/>
<line x1="366.48" y1="701" x2="366.48" y2="705" stroke="#222" stroke-width="1"/>
<line x1="377.5" y1="701" x2="377.5" y2="707" stroke="#000" stroke-width="1.4"/>
<text x="377.5" y="721.7" fill="#000" font-size="11" text-anchor="middle">14</text>
<line x1="388.52" y1="701" x2="388.52" y2="705" stroke="#222" stroke-width="1"/>
<line x1="399.54" y1="701" x2="399.54" y2="705" stroke="#222" stroke-width="1"/>
<line x1="410.55" y1="701" x2="410.55" y2="705" stroke="#222" stroke-width="1"/>
<line x1="421.57" y1="701" x2="421.57" y2="707" stroke="#000" stroke-width="1.4"/>
<text x="421.57" y="721.7" fill="#000" font-size="11" text-anchor="middle">16</text>
<line x1="432.59" y1="701" x2="432.59" y2="705" stroke="#222" stroke-width="1"/>
<line x1="443.61" y1="701" x2="443.61" y2="705" stroke="#222" stroke-width="1"/>
<line x1="454.62" y1="701" x2="454.62" y2="705" stroke="#222" stroke-width="1"/>
<line x1="465.64" y1="701" x2="465.64" y2="707" stroke="#000" stroke-width="1.4"/>
<text x="465.64" y="721.7" fill="#000" font-size="11" text-anchor="middle">18</text>
<line x1="476.66" y1="701" x2="476.66" y2="705" stroke="#222" stroke-width="1"/>
<line x1="487.68" y1="701" x2="487.68" y2="705" stroke="#222" stroke-width="1"/>
<line x1="498.7" y1="701" x2="498.7" y2="705" stroke="#222" stroke-width="1"/>
<line x1="509.71" y1="701" x2="509.71" y2="707" stroke="#000" stroke-width="1.4"/>
<text x="509.71" y="721.7" fill="#000" font-size="11" text-anchor="middle">20</text>
<line x1="520.73" y1="701" x2="520.73" y2="705" stroke="#222" stroke-width="1"/>
<line x1="531.75" y1="701" x2="531.75" y2="705" stroke="#222" stroke-width="1"/>
<line x1="542.77" y1="701" x2="542.77" y2="705" stroke="#222" stroke-width="1"/>
<line x1="553.79" y1="701" x2="553.79" y2="707" stroke="#000" stroke-width="1.4"/>
<text x="553.79" y="721.7" fill="#000" font-size="11" text-anchor="middle">22</text>
<line x1="564.8" y1="701" x2="564.8" y2="705" stroke="#222" stroke-width="1"/>
<line x1="575.82" y1="701" x2="575.82" y2="705" stroke="#222" stroke-width="1"/>
<line x1="586.84" y1="701" x2="586.84" y2="705" stroke="#222" stroke-width="1"/>
<line x1="597.86" y1="701" x2="597.86" y2="707" stroke="#000" stroke-width="1.4"/>
<text x="597.86" y="721.7" fill="#000" font-size="11" text-anchor="middle">24</text>
<line x1="608.88" y1="701" x2="608.88" y2="705" stroke="#222" stroke-width="1"/>
<line x1="619.89" y1="701" x2="619.89" y2="705" stroke="#222" stroke-width="1"/>
<line x1="630.91" y1="701" x2="630.91" y2="705" stroke="#222" stroke-width="1"/>
<line x1="641.93" y1="701" x2="641.93" y2="707" stroke="#000" stroke-width="1.4"/>
<text x="641.93" y="721.7" fill="#000" font-size="11" text-anchor="middle">26</text>
<line x1="652.95" y1="701" x2="652.95" y2="705" stroke="#222" stroke-width="1"/>
<line x1="663.96" y1="701" x2="663.96" y2="705" stroke="#222" stroke-width="1"/>
<line x1="674.98" y1="701" x2="674.98" y2="705" stroke="#222" stroke-width="1"/>
<line x1="686" y1="701" x2="686" y2="707" stroke="#000" stroke-width="1.4"/>
<text x="686" y="721.7" fill="#000" font-size="11" text-anchor="middle">28</text>
<svg x="0" y="0" width="744" height="797" overflow="hidden">
<path d="M69.00 603.82 L76.81 601.94 L84.62 600.01 L92.43 598.02 L100.24 595.97 L108.05 593.87 L115.86 591.73 L123.67 589.53 L131.48 587.30 L139.29 585.02 L147.10 582.70 L154.91 580.35 L162.72 577.96 L170.53 575.54 L178.34 573.09 L186.15 570.62 L193.96 568.12 L201.77 565.61 L209.58 563.07 L217.39 560.52 L225.20 557.95 L233.01 555.38 L240.82 552.79 L248.63 550.21 L256.44 547.61 L264.25 545.02 L272.06 542.43 L279.87 539.84 L287.68 537.26 L295.49 534.69 L303.30 532.13 L311.11 529.59 L318.92 527.06 L326.73 524.56 L334.54 522.07 L342.35 519.61 L350.16 517.18 L357.97 514.78 L365.78 512.41 L373.59 510.07 L381.41 507.78 L389.22 505.52 L397.03 503.31 L404.84 501.14 L412.65 499.02 L420.46 496.95 L428.27 494.93 L436.08 492.97 L443.89 491.06 L451.70 489.22 L459.51 487.44 L467.32 485.72 L475.13 484.08 L482.94 482.50 L490.75 481.00 L498.56 479.57 L506.37 478.22 L514.18 476.95 L521.99 475.77 L529.80 474.67 L537.61 473.66 L545.42 472.74 L553.23 471.92 L561.04 471.19 L568.85 470.56 L576.66 470.03 L584.47 469.60 L592.28 469.28 L600.09 469.07 L607.90 468.97 L615.71 468.99 L623.52 469.12 L631.33 469.37 L639.14 469.74 L646.95 470.24 L654.76 470.86 L662.57 471.62 L670.38 472.50 L678.19 473.52 L686.00 474.68" fill="none" stroke="#003a70" stroke-width="2" stroke-linejoin="round" stroke-linecap="butt"/>
<path d="M69.00 630.16 L76.03 628.79 L83.06 627.38 L90.09 625.92 L97.12 624.43 L104.15 622.90 L111.17 621.34 L118.20 619.74 L125.23 618.11 L132.26 616.45 L139.29 614.76 L146.32 613.04 L153.35 611.30 L160.38 609.54 L167.41 607.76 L174.44 605.95 L181.47 604.13 L188.49 602.30 L195.52 600.45 L202.55 598.59 L209.58 596.72 L216.61 594.84 L223.64 592.96 L230.67 591.07 L237.70 589.18 L244.73 587.29 L251.76 585.40 L258.79 583.51 L265.82 581.63 L272.84 579.76 L279.87 577.90 L286.90 576.04 L293.93 574.20 L300.96 572.37 L307.99 570.56 L315.02 568.77 L322.05 567.00 L329.08 565.24 L336.11 563.52 L343.14 561.82 L350.16 560.14 L357.19 558.50 L364.22 556.88 L371.25 555.30 L378.28 553.75 L385.31 552.25 L392.34 550.77 L399.37 549.34 L406.40 547.96 L413.43 546.61 L420.46 545.31 L427.48 544.06 L434.51 542.86 L441.54 541.71 L448.57 540.62 L455.60 539.58 L462.63 538.59 L469.66 537.67 L476.69 536.81 L483.72 536.01 L490.75 535.27 L497.78 534.60 L504.81 534.00 L511.83 533.47 L518.86 533.01 L525.89 532.62 L532.92 532.31 L539.95 532.08 L546.98 531.93 L554.01 531.85 L561.04 531.86 L568.07 531.96 L575.10 532.14 L582.13 532.41 L589.15 532.78 L596.18 533.23 L603.21 533.78 L610.24 534.43 L617.27 535.17 L624.30 536.01" fill="none" stroke="#3f67b5" stroke-width="2" stroke-linejoin="round" stroke-linecap="butt"/>
<path d="M69.00 651.24 L75.25 650.28 L81.50 649.29 L87.74 648.27 L93.99 647.22 L100.24 646.15 L106.49 645.05 L112.74 643.93 L118.98 642.78 L125.23 641.62 L131.48 640.43 L137.73 639.23 L143.98 638.00 L150.23 636.76 L156.47 635.51 L162.72 634.25 L168.97 632.97 L175.22 631.68 L181.47 630.38 L187.71 629.07 L193.96 627.76 L200.21 626.44 L206.46 625.12 L212.71 623.79 L218.95 622.47 L225.20 621.14 L231.45 619.81 L237.70 618.49 L243.95 617.17 L250.19 615.85 L256.44 614.54 L262.69 613.24 L268.94 611.94 L275.19 610.66 L281.44 609.39 L287.68 608.13 L293.93 606.88 L300.18 605.65 L306.43 604.44 L312.68 603.25 L318.92 602.07 L325.17 600.91 L331.42 599.78 L337.67 598.67 L343.92 597.59 L350.16 596.52 L356.41 595.49 L362.66 594.49 L368.91 593.51 L375.16 592.57 L381.41 591.66 L387.65 590.78 L393.90 589.94 L400.15 589.13 L406.40 588.36 L412.65 587.63 L418.89 586.94 L425.14 586.29 L431.39 585.68 L437.64 585.12 L443.89 584.60 L450.13 584.13 L456.38 583.71 L462.63 583.34 L468.88 583.01 L475.13 582.74 L481.37 582.52 L487.62 582.36 L493.87 582.25 L500.12 582.20 L506.37 582.21 L512.62 582.28 L518.86 582.41 L525.11 582.60 L531.36 582.85 L537.61 583.17 L543.86 583.56 L550.10 584.01 L556.35 584.53 L562.60 585.12" fill="none" stroke="#800080" stroke-width="2" stroke-linejoin="round" stroke-linecap="butt"/>
<path d="M69.00 667.67 L74.47 667.02 L79.93 666.36 L85.40 665.68 L90.87 664.97 L96.34 664.26 L101.80 663.52 L107.27 662.77 L112.74 662.00 L118.20 661.22 L123.67 660.42 L129.14 659.62 L134.61 658.80 L140.07 657.97 L145.54 657.13 L151.01 656.28 L156.47 655.42 L161.94 654.56 L167.41 653.69 L172.87 652.82 L178.34 651.94 L183.81 651.05 L189.28 650.17 L194.74 649.28 L200.21 648.39 L205.68 647.50 L211.14 646.61 L216.61 645.72 L222.08 644.84 L227.55 643.96 L233.01 643.08 L238.48 642.21 L243.95 641.34 L249.41 640.48 L254.88 639.63 L260.35 638.78 L265.82 637.95 L271.28 637.13 L276.75 636.31 L282.22 635.51 L287.68 634.72 L293.15 633.95 L298.62 633.19 L304.08 632.45 L309.55 631.72 L315.02 631.01 L320.49 630.32 L325.95 629.64 L331.42 628.99 L336.89 628.36 L342.35 627.75 L347.82 627.16 L353.29 626.60 L358.76 626.05 L364.22 625.54 L369.69 625.05 L375.16 624.59 L380.62 624.15 L386.09 623.75 L391.56 623.37 L397.03 623.02 L402.49 622.71 L407.96 622.42 L413.43 622.17 L418.89 621.96 L424.36 621.78 L429.83 621.63 L435.29 621.52 L440.76 621.45 L446.23 621.42 L451.70 621.42 L457.16 621.47 L462.63 621.55 L468.10 621.68 L473.56 621.85 L479.03 622.06 L484.50 622.32 L489.97 622.63 L495.43 622.97 L500.90 623.37" fill="none" stroke="#800020" stroke-width="2" stroke-linejoin="round" stroke-linecap="butt"/>
<path d="M69.00 680.01 L73.69 679.60 L78.37 679.19 L83.06 678.76 L87.74 678.31 L92.43 677.86 L97.12 677.40 L101.80 676.92 L106.49 676.44 L111.17 675.95 L115.86 675.45 L120.55 674.94 L125.23 674.42 L129.92 673.90 L134.61 673.37 L139.29 672.84 L143.98 672.30 L148.66 671.76 L153.35 671.21 L158.04 670.66 L162.72 670.10 L167.41 669.55 L172.09 668.99 L176.78 668.43 L181.47 667.87 L186.15 667.31 L190.84 666.75 L195.52 666.19 L200.21 665.63 L204.90 665.08 L209.58 664.52 L214.27 663.98 L218.95 663.43 L223.64 662.89 L228.33 662.35 L233.01 661.82 L237.70 661.29 L242.38 660.78 L247.07 660.26 L251.76 659.76 L256.44 659.26 L261.13 658.78 L265.82 658.30 L270.50 657.83 L275.19 657.37 L279.87 656.92 L284.56 656.49 L289.25 656.06 L293.93 655.65 L298.62 655.26 L303.30 654.87 L307.99 654.50 L312.68 654.14 L317.36 653.80 L322.05 653.48 L326.73 653.17 L331.42 652.88 L336.11 652.61 L340.79 652.35 L345.48 652.11 L350.16 651.89 L354.85 651.70 L359.54 651.52 L364.22 651.36 L368.91 651.22 L373.59 651.11 L378.28 651.02 L382.97 650.95 L387.65 650.90 L392.34 650.88 L397.03 650.89 L401.71 650.91 L406.40 650.97 L411.08 651.05 L415.77 651.16 L420.46 651.29 L425.14 651.45 L429.83 651.64 L434.51 651.86 L439.20 652.11" fill="none" stroke="#2a9bda" stroke-width="2" stroke-linejoin="round" stroke-linecap="butt"/>
<path d="M69.00 688.85 L72.91 688.62 L76.81 688.38 L80.72 688.13 L84.62 687.87 L88.53 687.61 L92.43 687.34 L96.34 687.07 L100.24 686.79 L104.15 686.50 L108.05 686.21 L111.96 685.92 L115.86 685.62 L119.77 685.32 L123.67 685.01 L127.58 684.70 L131.48 684.39 L135.39 684.08 L139.29 683.76 L143.20 683.44 L147.10 683.12 L151.01 682.80 L154.91 682.47 L158.82 682.15 L162.72 681.83 L166.63 681.50 L170.53 681.18 L174.44 680.86 L178.34 680.53 L182.25 680.21 L186.15 679.89 L190.06 679.57 L193.96 679.26 L197.87 678.94 L201.77 678.63 L205.68 678.33 L209.58 678.02 L213.49 677.72 L217.39 677.43 L221.30 677.13 L225.20 676.85 L229.11 676.57 L233.01 676.29 L236.92 676.02 L240.82 675.75 L244.73 675.49 L248.63 675.24 L252.54 675.00 L256.44 674.76 L260.35 674.53 L264.25 674.30 L268.16 674.09 L272.06 673.88 L275.97 673.69 L279.87 673.50 L283.78 673.32 L287.68 673.15 L291.59 672.99 L295.49 672.85 L299.40 672.71 L303.30 672.58 L307.21 672.47 L311.11 672.36 L315.02 672.27 L318.92 672.19 L322.83 672.13 L326.73 672.08 L330.64 672.04 L334.54 672.01 L338.45 672.00 L342.35 672.00 L346.26 672.02 L350.16 672.05 L354.07 672.09 L357.97 672.16 L361.88 672.23 L365.78 672.33 L369.69 672.44 L373.59 672.57 L377.50 672.71" fill="none" stroke="#cd8f45" stroke-width="2" stroke-linejoin="round" stroke-linecap="butt"/>
<text x="697" y="478.83" fill="#003a70" fill-opacity="0.6" font-size="13" font-weight="bold">2900 rpm</text>
<text x="635.3" y="540.16" fill="#3f67b5" fill-opacity="0.6" font-size="13" font-weight="bold">2610 rpm</text>
<text x="573.6" y="589.27" fill="#800080" fill-opacity="0.6" font-size="13" font-weight="bold">2320 rpm</text>
<text x="511.9" y="627.52" fill="#800020" fill-opacity="0.6" font-size="13" font-weight="bold">2030 rpm</text>
<text x="450.2" y="656.26" fill="#2a9bda" fill-opacity="0.6" font-size="13" font-weight="bold">1740 rpm</text>
<text x="388.5" y="676.86" fill="#cd8f45" fill-opacity="0.6" font-size="13" font-weight="bold">1450 rpm</text>
</svg>
<g fill="#3c5ae6" font-family='"Liberation Sans", "Noto Sans CJK SC", sans-serif' font-size="13" font-weight="500"><text x="11" y="167">扬</text><text x="11" y="181">程</text><text transform="translate(19.5,212.5) rotate(-90)" x="0" y="0" font-weight="bold">(m)</text></g>
<g fill="#c8148c" font-family='"Liberation Sans", "Noto Sans CJK SC", sans-serif' font-size="13" font-weight="500"><text x="11" y="512">功</text><text x="11" y="527">率</text><text transform="translate(19.5,566) rotate(-90)" x="0" y="0" font-weight="bold">(KW)</text></g>
<text x="377.5" y="741" text-anchor="middle" font-family='"Liberation Sans", "Noto Sans CJK SC", sans-serif' font-size="14" font-weight="bold" fill="#000">流量 (m³/h)</text>
</svg>
</body></html>
